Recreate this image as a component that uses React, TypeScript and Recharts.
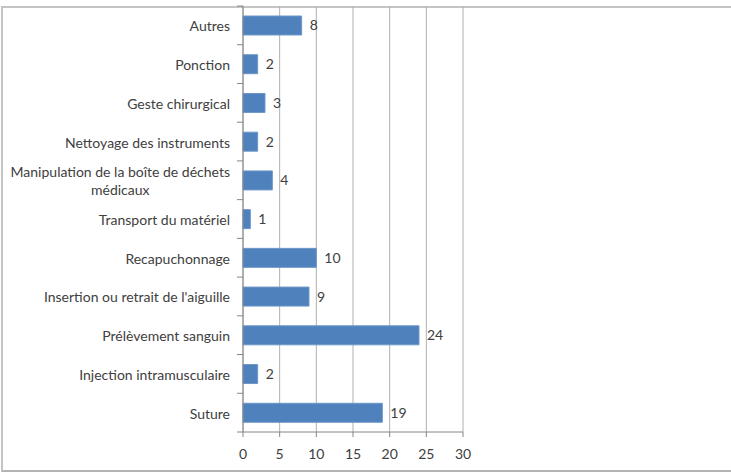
import { BarChart, Bar, XAxis, YAxis, CartesianGrid, LabelList } from 'recharts';

const categories = [
  'Autres',
  'Ponction',
  'Geste chirurgical',
  'Nettoyage des instruments',
  'Manipulation de la boîte de déchets médicaux',
  'Transport du matériel',
  'Recapuchonnage',
  "Insertion ou retrait de l'aiguille",
  'Prélèvement sanguin',
  'Injection intramusculaire',
  'Suture',
];
const counts = [8, 2, 3, 2, 4, 1, 10, 9, 24, 2, 19];
const xTicks = [0, 5, 10, 15, 20, 25, 30];

const data = categories.map((name, i) => ({ label: name, count: counts[i] }));

const W = 731;
const H = 473;
const X_H = 30;
const margin = { top: 6, right: 268, bottom: 41 - X_H, left: 3 };
const Y_W = 240;
const AXIS_X = margin.left + Y_W;
const BAND = (H - margin.top - 41) / categories.length;
const FONT = 'Lato, "Open Sans", sans-serif';
const TEXT = '#404040';
const GRID = '#b0b0b0';
const AXIS = '#868686';
const LABEL_SIZE = 14;

let ctx: CanvasRenderingContext2D | null = null;
function measure(s: string) {
  if (!ctx) ctx = document.createElement('canvas').getContext('2d');
  if (!ctx) return s.length * 7;
  ctx.font = `${LABEL_SIZE}px ${FONT}`;
  return ctx.measureText(s).width;
}

function wrap(label: string, maxW: number) {
  const words = label.split(' ');
  const lines: string[] = [];
  let cur = '';
  for (const w of words) {
    const next = cur ? cur + ' ' + w : w;
    if (cur && measure(next) > maxW) {
      lines.push(cur);
      cur = w;
    } else cur = next;
  }
  if (cur) lines.push(cur);
  return lines;
}

const YTick = (props: any) => {
  const { y, payload, index } = props;
  const lines = wrap(String(payload.value), 226);
  const right = AXIS_X - 13;
  const w = Math.max(...lines.map(measure));
  const lh = 18;
  const y0 = y - ((lines.length - 1) * lh) / 2;
  const tx = lines.length > 1 ? right - w / 2 : right;
  return (
    <g>
      {index === 0 && (
        <line x1={AXIS_X - 6} x2={AXIS_X} y1={y - BAND / 2} y2={y - BAND / 2} stroke={AXIS} />
      )}
      <line x1={AXIS_X - 6} x2={AXIS_X} y1={y + BAND / 2} y2={y + BAND / 2} stroke={AXIS} />
      <text
        x={tx}
        y={y0}
        textAnchor={lines.length > 1 ? 'middle' : 'end'}
        dominantBaseline="central"
        fontSize={LABEL_SIZE}
        fontFamily={FONT}
        fill={TEXT}
      >
        {lines.map((l, i) => (
          <tspan key={i} x={tx} dy={i === 0 ? 0 : lh}>
            {l}
          </tspan>
        ))}
      </text>
    </g>
  );
};

export default function App() {
  return (
    <div style={{ position: 'absolute', left: 0, top: 0, width: W, height: H, background: '#fff' }}>
      <div
        style={{
          position: 'absolute',
          left: 1,
          top: 6,
          width: W + 10,
          height: 466,
          borderTop: '2px solid #c4c4c4',
          borderLeft: '2px solid #c4c4c4',
          borderBottom: '2px solid #b4b4b4',
          boxSizing: 'border-box',
        }}
      />
      <div style={{ position: 'absolute', left: 0, top: 0 }}>
        <BarChart width={W} height={H} data={data} layout="vertical" margin={margin} barSize={19}>
          <CartesianGrid horizontal={false} stroke={GRID} />
          <XAxis
            type="number"
            domain={[0, 30]}
            ticks={xTicks}
            height={X_H}
            stroke={AXIS}
            tickSize={5}
            tickMargin={12}
            tick={{ fontSize: 14, fill: TEXT, fontFamily: FONT }}
          />
          <YAxis
            type="category"
            dataKey="label"
            width={Y_W}
            stroke={AXIS}
            tickLine={false}
            interval={0}
            tick={<YTick />}
          />
          <Bar dataKey="count" fill="#4f81bd" stroke="#6e97c9" isAnimationActive={false}>
            <LabelList dataKey="count" position="right" offset={8} fontSize={14} fill={TEXT} fontFamily={FONT} />
          </Bar>
        </BarChart>
      </div>
    </div>
  );
}
